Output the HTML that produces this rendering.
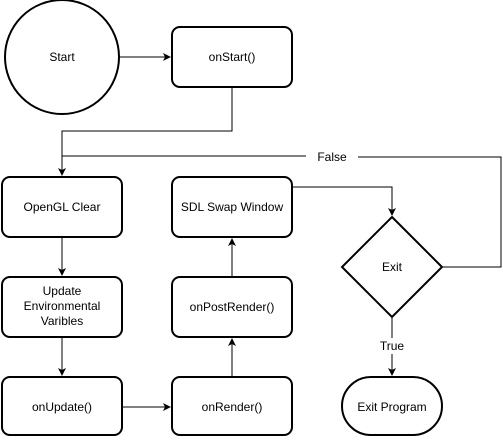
<!DOCTYPE html>
<html><head><style>body{margin:0;background:#fff}</style></head><body>
<svg width="503" height="437" xmlns="http://www.w3.org/2000/svg" font-family="Liberation Sans, sans-serif" font-size="12">
<defs><marker id="a" markerWidth="8" markerHeight="8" refX="7" refY="4" orient="auto" markerUnits="userSpaceOnUse"><path d="M0,0 L8,4 L0,8 L2,4 Z" fill="#000"/></marker></defs>
<g fill="#fff" stroke="#000" stroke-width="2">
<circle cx="62" cy="57" r="57"/>
<rect x="172" y="27" width="120" height="60" rx="8"/>
<rect x="2" y="177" width="120" height="60" rx="8"/>
<rect x="2" y="277" width="120" height="60" rx="8"/>
<rect x="2" y="377" width="120" height="58" rx="8"/>
<rect x="172" y="377" width="120" height="58" rx="8"/>
<rect x="172" y="277" width="120" height="60" rx="8"/>
<rect x="172" y="177" width="120" height="60" rx="8"/>
<path d="M392,217 L442,267 L392,317 L342,267 Z"/>
<rect x="342" y="377" width="100" height="58" rx="29"/>
</g>
<g fill="none" stroke="#000" stroke-width="1">
<path d="M120,57 H170" marker-end="url(#a)"/>
<path d="M232,87 V131 H62 V175" marker-end="url(#a)"/>
<path d="M442,267 H501 V157 H358"/>
<path d="M306,156 H62"/>
<path d="M62,237 V275" marker-end="url(#a)"/>
<path d="M62,337 V375" marker-end="url(#a)"/>
<path d="M122,407 H170" marker-end="url(#a)"/>
<path d="M232,377 V339" marker-end="url(#a)"/>
<path d="M232,277 V239" marker-end="url(#a)"/>
<path d="M292,187 H392 V215" marker-end="url(#a)"/>
<path d="M392,317 V338"/>
<path d="M392,354 V375" marker-end="url(#a)"/>
</g>
<g text-anchor="middle" fill="#000">
<text x="62" y="61">Start</text>
<text x="232" y="61">onStart()</text>
<text x="62" y="211">OpenGL Clear</text>
<text x="62" y="295">Update</text>
<text x="62" y="310">Environmental</text>
<text x="62" y="325">Varibles</text>
<text x="62" y="411">onUpdate()</text>
<text x="232" y="411">onRender()</text>
<text x="232" y="311">onPostRender()</text>
<text x="232" y="211">SDL Swap Window</text>
<text x="392" y="271">Exit</text>
<text x="392" y="411">Exit Program</text>
<text x="332" y="161">False</text>
<text x="392" y="350">True</text>
</g>
</svg>
</body></html>
